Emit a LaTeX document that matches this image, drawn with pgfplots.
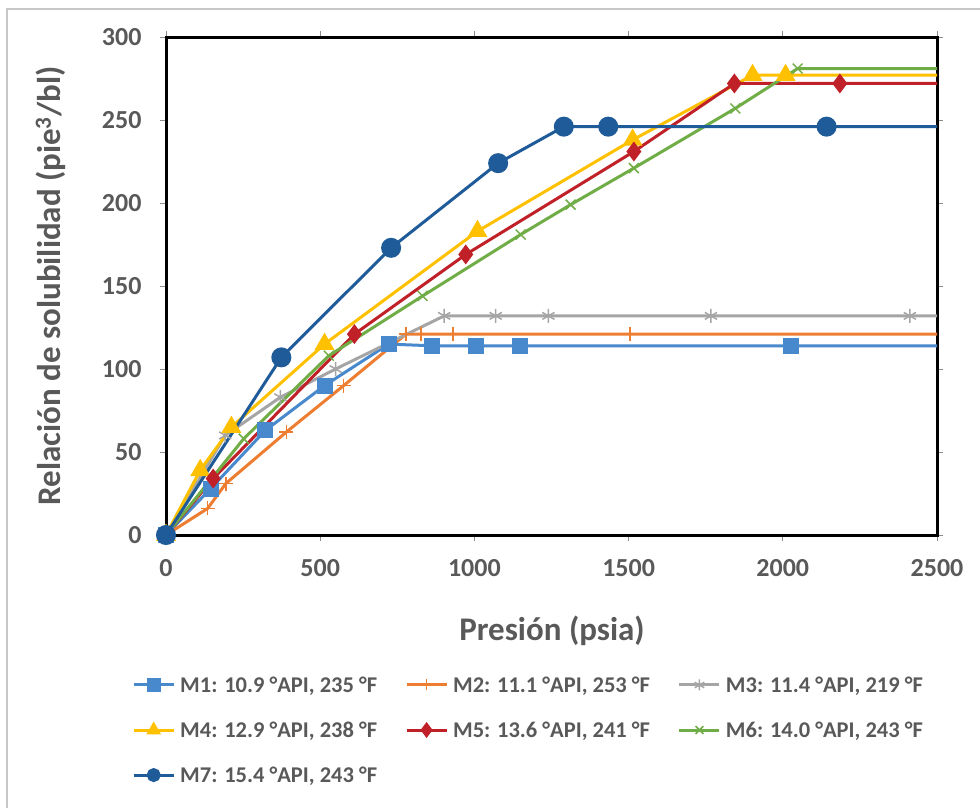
\documentclass[border=0pt]{standalone}
\usepackage{pgfplots}
\pgfplotsset{compat=1.18}
\usepackage{fontspec}
\setmainfont{Carlito}
\definecolor{txt}{HTML}{595959}
\definecolor{m1}{RGB}{72,136,204}
\definecolor{m2}{HTML}{ED7D31}
\definecolor{m3}{HTML}{A5A5A5}
\definecolor{m4}{HTML}{FFC000}
\definecolor{m5}{RGB}{192,32,40}
\definecolor{m6}{HTML}{70AD47}
\definecolor{m7}{RGB}{31,91,153}

\begin{document}
\begin{tikzpicture}[x=1pt,y=1pt]
\useasboundingbox (0,0) rectangle (980,-808);
\draw[line width=2pt, color=black!22] (7,-808) -- (7,-9) -- (980,-9);
\begin{axis}[
    at={(166pt,-535pt)}, anchor=south west,
    scale only axis, width=771pt, height=498pt,
    xmin=0, xmax=2500, ymin=0, ymax=300,
    xtick={0,500,...,2500}, ytick={0,50,...,300},
    axis line style={black, line width=3pt},
    tick style={black!45, line width=1pt},
    tick align=outside, major tick length=6pt,
    tick label style={font=\fontsize{26}{26}\selectfont\bfseries, text=txt},
    yticklabel style={xshift=-15pt},
    xticklabel style={yshift=-15pt},
    /pgf/number format/assume math mode=true,
    /pgf/number format/1000 sep={},
    every axis plot/.append style={line width=3pt},
    legend columns=3,
    legend cell align=left,
    legend style={at={(axis description cs:-0.0441,-0.3916)}, anchor=west,
        draw=none, fill=none, inner sep=0pt, row sep=28pt,
        font=\fontsize{22.5}{22.5}\selectfont\bfseries, text=txt,
        nodes={inner sep=0pt},
        /tikz/every odd column/.style={column sep=5pt},
        /tikz/every even column/.style={column sep=28pt}},
    legend image code/.code={%
        \draw[#1, mark=none] (0pt,0pt) -- (40pt,0pt);
        \draw[#1, mark size=5.5pt, only marks] plot coordinates {(20pt,0pt)};},
]
\addplot[m1, mark=square*, mark size=6.5pt, mark indices={1,2,3,4,5,6,7,8,9}] coordinates {
    (0,0) (145,28) (322,63) (514,90) (722,115) (862,114) (1005,114) (1147,114) (2026,114) (2500,114)};
\addlegendentry{M1: 10.9 °API, 235 °F}
\addplot[m2, mark=+, mark size=7pt, mark options={line width=1.5pt}, mark indices={1,2,3,4,5,6,7,8,9}] coordinates {
    (0,0) (135,16) (194,31) (390,62) (576,90) (778,121) (827,121) (931,121) (1504,121) (2500,121)};
\addlegendentry{M2: 11.1 °API, 253 °F}
\addplot[m3, mark=asterisk, mark size=7pt, mark options={line width=1.5pt}, mark indices={1,2,3,4,5,6,7,8,9}] coordinates {
    (0,0) (192,60) (371,83) (550,100) (902,132) (1069,132) (1240,132) (1767,132) (2412,132) (2500,132)};
\addlegendentry{M3: 11.4 °API, 219 °F}
\addplot[m4, mark=triangle*, mark size=8.5pt, mark indices={1,2,3,4,5,6,7,8}] coordinates {
    (0,0) (111,39) (212,65) (514,115) (1010,183) (1513,238) (1902,277) (2009,277) (2500,277)};
\addlegendentry{M4: 12.9 °API, 238 °F}
\addplot[m5, mark=diamond*, mark size=7.5pt, mark indices={1,2,3,4,5,6,7}] coordinates {
    (0,0) (153,34) (611,121) (972,169) (1517,231) (1843,272) (2185,272) (2500,272)};
\addlegendentry{M5: 13.6 °API, 241 °F}
\addplot[m6, mark=x, mark size=7pt, mark options={line width=1.5pt}, mark indices={1,2,3,4,5,6,7,8,9}] coordinates {
    (0,0) (252,58) (528,108) (832,144) (1150,181) (1312,199) (1517,221) (1846,257) (2048,281) (2500,281)};
\addlegendentry{M6: 14.0 °API, 243 °F}
\addplot[m7, mark=*, mark size=8.5pt, mark indices={1,2,3,4,5,6,7}] coordinates {
    (0,0) (374,107) (730,173) (1077,224) (1290,246) (1434,246) (2142,246) (2500,246)};
\addlegendentry{M7: 15.4 °API, 243 °F}
\end{axis}
\node[rotate=90, anchor=base, text=txt, font=\fontsize{33}{33}\selectfont\bfseries] at (60,-286) {Relación de solubilidad (pie\textsuperscript{3}/bl)};
\node[anchor=base, text=txt, font=\fontsize{33}{33}\selectfont\bfseries] at (552,-640) {Presión (psia)};
\end{tikzpicture}
\end{document}
